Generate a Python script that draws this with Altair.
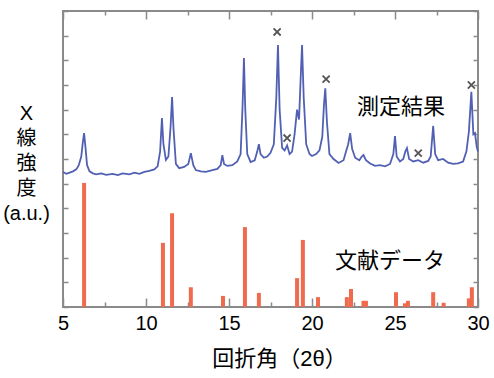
import altair as alt
import pandas as pd

# measured pattern (2theta, intensity a.u.)
meas_x = [5.0, 5.2, 5.4, 5.6, 5.8, 5.95, 6.1, 6.2, 6.27, 6.35, 6.45, 6.6, 6.8, 7.0, 7.3, 7.6,
          8.0, 8.3, 8.6, 9.0, 9.3, 9.6, 9.9, 10.2, 10.5, 10.7, 10.85, 10.96, 11.05, 11.2,
          11.35, 11.48, 11.57, 11.66, 11.8, 12.0, 12.3, 12.55, 12.7, 12.85, 13.0, 13.3,
          13.6, 14.0, 14.3, 14.5, 14.6, 14.7, 14.9, 15.2, 15.5, 15.7, 15.82, 15.9, 15.98,
          16.1, 16.3, 16.55, 16.7, 16.8, 16.9, 17.1, 17.3, 17.5, 17.7, 17.85, 17.95, 18.05,
          18.2, 18.35, 18.5, 18.65, 18.8, 18.95, 19.1, 19.22, 19.33, 19.4, 19.5, 19.65,
          19.85, 20.0, 20.25, 20.45, 20.62, 20.72, 20.8, 20.9, 21.05, 21.3, 21.6, 21.9,
          22.05, 22.18, 22.3, 22.42, 22.6, 22.85, 23.0, 23.1, 23.25, 23.5, 23.8, 24.1,
          24.4, 24.7, 24.9, 25.0, 25.1, 25.3, 25.5, 25.62, 25.72, 25.85, 26.1, 26.4, 26.7,
          27.0, 27.15, 27.3, 27.42, 27.6, 27.9, 28.2, 28.5, 28.8, 29.1, 29.3, 29.45, 29.6,
          29.72, 29.82, 29.92, 30.0]
meas_y = [5.47, 5.40, 5.45, 5.50, 5.58, 5.75, 6.10, 6.70, 7.05, 6.50, 5.75, 5.50, 5.42, 5.38,
          5.42, 5.36, 5.40, 5.35, 5.42, 5.38, 5.45, 5.40, 5.48, 5.52, 5.58, 5.70, 6.30, 7.66,
          6.60, 5.96, 6.10, 7.30, 8.51, 7.20, 5.80, 5.63, 5.68, 5.80, 6.24, 5.75, 5.55, 5.50,
          5.48, 5.55, 5.60, 5.75, 6.16, 5.80, 5.72, 5.75, 5.90, 6.20, 8.20, 10.09, 8.00,
          6.20, 5.88, 5.95, 6.30, 6.60, 6.20, 6.05, 6.10, 6.25, 6.60, 8.50, 10.62, 8.00,
          6.45, 6.35, 6.55, 6.20, 6.30, 7.00, 8.00, 7.60, 9.50, 10.62, 8.50, 6.60,
          6.20, 6.12, 6.20, 6.35, 6.90, 8.20, 8.87, 7.50, 6.20, 6.00, 5.84, 5.95,
          6.30, 6.60, 7.05, 6.40, 6.05, 5.95, 6.10, 6.16, 5.95, 5.82, 5.72, 5.75,
          5.70, 5.80, 6.20, 6.93, 6.10, 5.90, 6.00, 6.30, 6.44, 6.00, 5.90, 5.95, 5.85,
          5.92, 6.10, 7.34, 6.20, 5.95, 6.00, 5.85, 5.80, 5.82, 5.90, 6.30, 7.10, 8.72,
          7.00, 7.05, 6.50, 6.30]

# literature (reference) peaks
ref_x = [6.27, 11.02, 11.57, 12.7, 14.64, 15.96, 16.8, 19.1, 19.45, 20.36, 22.1, 22.35,
         23.1, 23.25, 25.06, 25.6, 25.78, 27.3, 27.93, 29.45, 29.63]
ref_h = [5.03, 2.6, 3.8, 0.8, 0.45, 3.24, 0.57, 1.17, 2.72, 0.4, 0.4, 0.73,
         0.25, 0.25, 0.6, 0.15, 0.25, 0.6, 0.17, 0.35, 0.8]

# x markers
cross_x = [17.9, 18.5, 20.85, 26.4, 29.6]
cross_y = [11.15, 6.85, 9.24, 6.24, 9.0]

# annotations
note_x = [25.36, 24.7]
note_y = [8.12, 1.85]
note_text = ["測定結果", "文献データ"]

major_ticks = [5, 10, 15, 20, 25, 30]
minor_ticks = [7.5, 12.5, 17.5, 22.5, 27.5]
y_ticks = list(range(13))

FONT = "Liberation Sans, Noto Sans CJK JP"
TICK = "#8a8a8a"

xs = alt.Scale(domain=[5, 30], nice=False, zero=False)
ys = alt.Scale(domain=[0, 12], nice=False, zero=False)

meas = pd.DataFrame({"x": meas_x, "y": meas_y})
ref = pd.DataFrame({"x": ref_x, "h": ref_h})
cross = pd.DataFrame({"x": cross_x, "y": cross_y})
notes = pd.DataFrame({"x": note_x, "y": note_y, "t": note_text})


def ax(**kw):
    base = dict(domain=False, grid=False, tickColor=TICK, tickWidth=1.5, labels=False, title=None)
    base.update(kw)
    return alt.Axis(**base)


line = alt.Chart(meas).mark_line(color="#5260B4", strokeWidth=1.8).encode(
    x=alt.X("x:Q", scale=xs, axis=ax(orient="bottom", values=minor_ticks, tickSize=5, offset=-5)),
    y=alt.Y("y:Q", scale=ys, axis=ax(orient="right", values=y_ticks, tickSize=5, offset=-5)),
)

bars = alt.Chart(ref).mark_rule(color="#F06A4E", strokeWidth=4).encode(
    x=alt.X("x:Q", scale=xs, axis=ax(orient="bottom", values=major_ticks, tickSize=9, offset=-9,
                                      labels=True, labelPadding=6, format="d", labelFontSize=20,
                                      labelFlush=False, labelOverlap=False,
                                      title="回折角（2θ）", titleFontSize=22, titleFontWeight="normal",
                                      titlePadding=15, titleX=216, titleAlign="center")),
    y=alt.Y("h:Q", scale=ys, axis=ax(orient="left", values=y_ticks, tickSize=5, offset=-5,
                                      title=["X", "線", "強", "度", "(a.u.)"], titleAngle=0,
                                      titleAlign="center", titleBaseline="top", titleX=-42,
                                      titleY=92, titleFontSize=20, titleFontWeight="normal",
                                      titleLineHeight=25)),
    y2=alt.datum(0),
)

pts = alt.Chart(cross).mark_point(shape="M-1,-1L1,1M-1,1L1,-1", filled=False, color="#555555",
                                  strokeWidth=1.8, size=50, opacity=1).encode(
    x=alt.X("x:Q", scale=xs, axis=ax(orient="top", values=major_ticks, tickSize=8, offset=-8)),
    y=alt.Y("y:Q", scale=ys, axis=None),
)

txt = alt.Chart(notes).mark_text(fontSize=22, font=FONT, color="black").encode(
    x=alt.X("x:Q", scale=xs, axis=ax(orient="top", values=minor_ticks, tickSize=4, offset=-4)),
    y=alt.Y("y:Q", scale=ys, axis=None),
    text="t:N",
)

chart = alt.layer(line, bars, pts, txt).resolve_axis(x="independent", y="independent").properties(
    width=415, height=296,
    autosize=alt.AutoSizeParams(type="none"),
    padding={"left": 63, "top": 11, "right": 16, "bottom": 71},
).configure_view(stroke=TICK, strokeWidth=2).configure_axis(
    labelFont=FONT, titleFont=FONT, labelColor="black", titleColor="black"
)

chart.save("out.html", embed_options={"renderer": "svg", "actions": False})
